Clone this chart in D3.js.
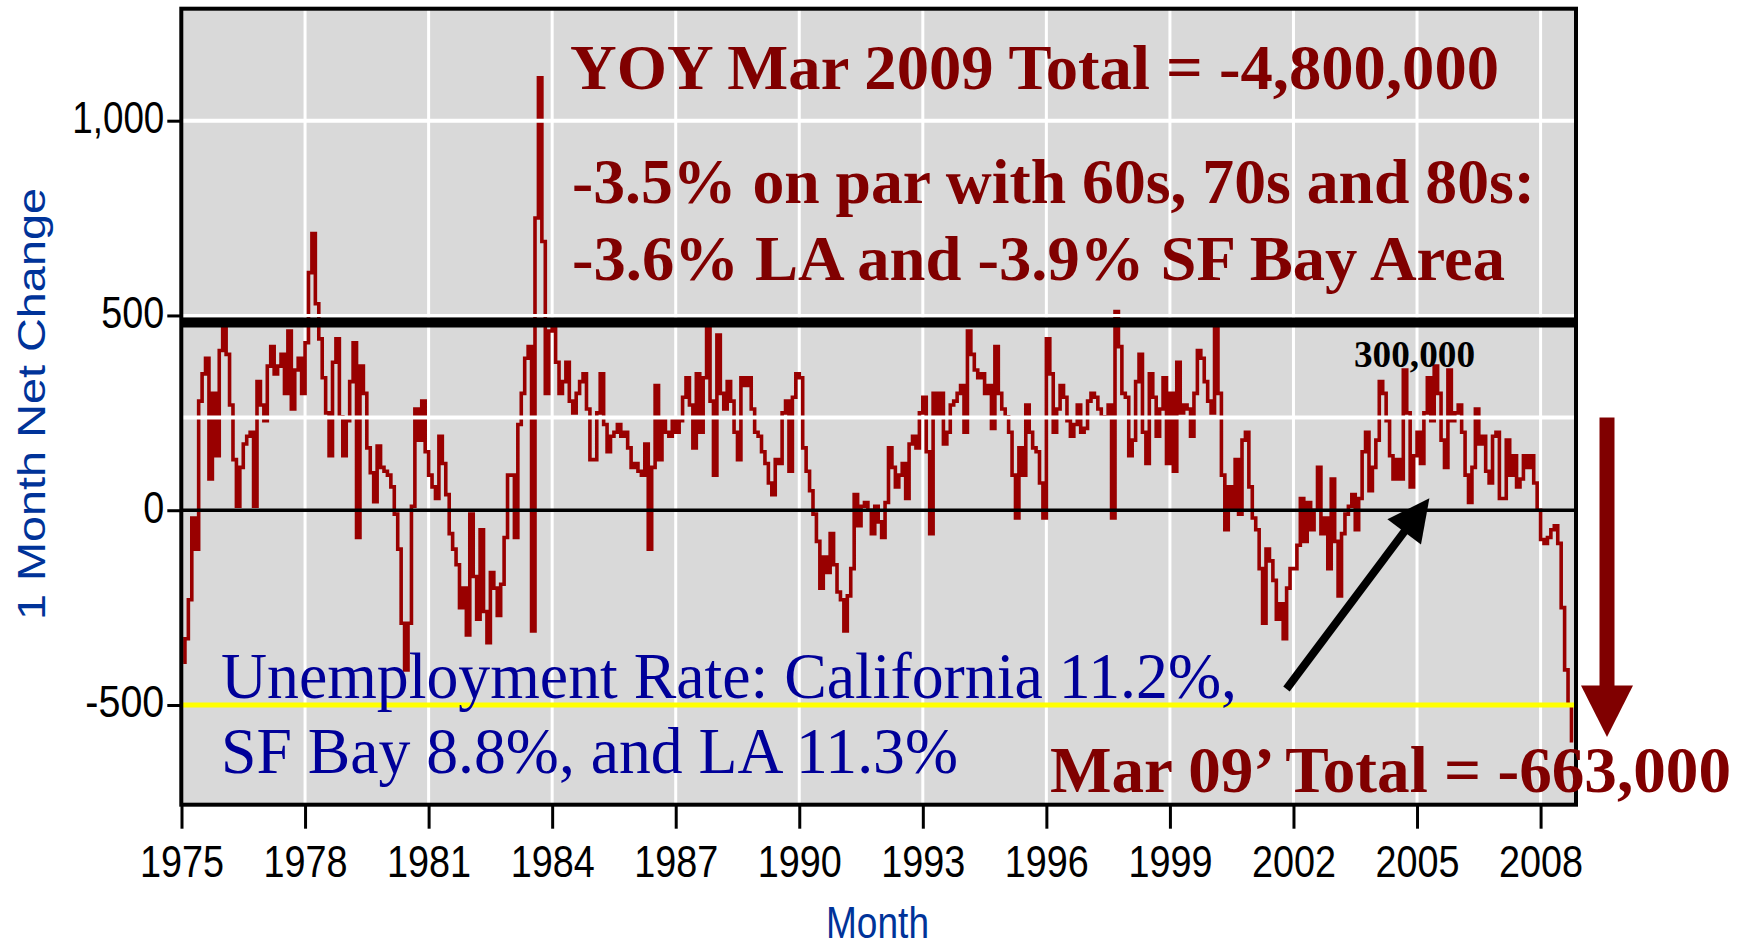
<!DOCTYPE html>
<html>
<head>
<meta charset="utf-8">
<script src="https://cdn.jsdelivr.net/npm/d3@7"></script>
<style>
  body { margin: 0; background: #fff; }
  svg { display: block; }
</style>
</head>
<body>
<div id="chart"></div>
<script>
// 1 month net change in jobs (thousands), monthly from Jan 1975
const net1970s = [
  -390, -330, -230, -20, -100, 280, 350, 390, 80, 300, 140, 410,
  470, 400, 270, 130, 10, 110, 170, 190, 200, 10, 330, 270,
  230, 370, 420, 350, 370, 400, 300, 460, 260, 360, 390, 300,
  430, 610, 710, 530, 440, 340, 250, 140, 380, 440, 240, 140,
  230, 330, 430, -70, 370, 300, 160, 96, 22, 165, 110, 100
];
const net1980s = [
  90, 60, -10, -100, -290, -410, -290, 10, 260, 180, 280, 150,
  90, 60, 30, 190, 120, 40, -60, -100, -140, -250, -200, -320,
  -10, -170, -280, -50, -260, -340, -160, -200, -270, -190, -70, 90,
  90, -70, 220, 300, 390, 420, -310, 750, 1110, 690, 300, 460,
  470, 380, 300, 330, 380, 280, 250, 300, 330, 350, 260, 130,
  130, 250, 350, 220, 150, 190, 200, 220, 190, 200, 160, 110,
  120, 100, 90, 170, -100, 110, 320, 130, 230, 200, 190, 230,
  200, 230, 290, 340, 270, 160, 350, 200, 340, 470, 280, 90,
  450, 300, 260, 330, 280, 200, 130, 340, 320, 340, 260, 200,
  190, 150, 120, 70, 40, 130, 120, 250, 280, 100, 290, 350
];
const net1990s = [
  340, 160, 100, 50, -10, -80, -200, -120, -160, -60, -140, -210,
  -230, -310, -220, -150, 40, -40, 10, 20, 0, -60, 10, -30,
  -70, 20, 160, 110, 60, 90, 120, 30, 170, 190, 160, 250,
  290, 150, -60, 300, 240, 300, 170, 200, 270, 280, 300, 320,
  200, 460, 400, 360, 340, 350, 300, 320, 210, 420, 300, 260,
  240, 200, 90, -20, 160, 90, 270, 200, 160, 150, 70, -20,
  440, 350, 200, 260, 320, 290, 230, 190, 220, 270, 200, 210,
  280, 300, 290, 260, 240, 240, 270, -20, 510, 420, 300, 290,
  140, 180, 330, 400, 200, 120, 350, 290, 190, 260, 340, 120,
  300, 100, 380, 250, 270, 260, 190, 300, 410, 390, 330, 280
];
const net2000s = [
  250, 480, 300, 90, -50, 60, 0, 130, -10, 180, 200, 60,
  -20, -50, -150, -290, -100, -130, -180, -280, -240, -330, -200, -150,
  -150, -90, 30, -80, 20, -50, 0, 110, -60, -20, -150, 80,
  -80, -220, -60, -10, 10, 40, -50, 30, 150, 200, 50, 110,
  180, 330, 300, 230, 140, 80, 130, 80, 360, 250, 60, 140,
  200, 120, 250, 340, 230, 370, 300, 180, 110, 360, 230, 250,
  270, 200, 90, 20, 110, 260, 170, 190, 100, 70, 190, 200,
  30, 30, 180, 90, 140, 60, 80, 140, 110, 140, 70, 0,
  -75, -85, -70, -50, -40, -85, -250, -410, -500, -592
];

const xTicks = [1975, 1978, 1981, 1984, 1987, 1990, 1993, 1996, 1999, 2002, 2005, 2008];
const yTicks = [-500, 0, 500, 1000];
const yTickLabels = ["-500", "0", "500", "1,000"];
const whiteLines = [1000, 500, 238];
const blackLine = 482;
const yellowLine = -500;

// SVG DIMENSIONS
let width = 1748;
let height = 951;
let plot = { left: 181.3, right: 1576, top: 8.7, bottom: 804.7 };

let svg = d3
  .select("#chart")
  .append("svg")
  .attr("width", width)
  .attr("height", height)
  .style("background", "#fff");

let x = d3.scaleLinear().domain([1975, 2008.86]).range([181.5, 1576]);
let y = d3.scaleLinear().domain([-756, 1287.5]).range([804.7, 8.7]);

// plot background
svg
  .append("rect")
  .attr("x", plot.left)
  .attr("y", plot.top)
  .attr("width", plot.right - plot.left)
  .attr("height", plot.bottom - plot.top)
  .attr("fill", "#d9d9d9");

// vertical grid
svg
  .append("g")
  .selectAll("line")
  .data(xTicks.slice(1))
  .enter()
  .append("line")
  .attr("x1", (d) => x(d))
  .attr("x2", (d) => x(d))
  .attr("y1", plot.top)
  .attr("y2", plot.bottom)
  .attr("stroke", "#fff")
  .attr("stroke-width", 3);

// the series
let netChange = [].concat(net1970s, net1980s, net1990s, net2000s);
let points = netChange.map((v, i) => [1975 + (i + 0.5) / 12, v]);

let line = d3
  .line()
  .x((d) => x(d[0]))
  .y((d) => y(d[1]))
  .curve(d3.curveStep);

svg
  .append("path")
  .datum(points)
  .attr("d", line)
  .attr("fill", "none")
  .attr("stroke", "#990000")
  .attr("stroke-width", 3.6);

// horizontal reference lines
function hline(v, color, w) {
  svg
    .append("line")
    .attr("x1", plot.left)
    .attr("x2", plot.right)
    .attr("y1", y(v))
    .attr("y2", y(v))
    .attr("stroke", color)
    .attr("stroke-width", w);
}
whiteLines.forEach((v) => hline(v, "#fff", v === 500 ? 3 : 4));
hline(blackLine, "#000", 10);
hline(0, "#000", 3.5);
hline(yellowLine, "#ffff00", 5);

// frame
svg
  .append("rect")
  .attr("x", plot.left)
  .attr("y", plot.top)
  .attr("width", plot.right - plot.left)
  .attr("height", plot.bottom - plot.top)
  .attr("fill", "none")
  .attr("stroke", "#000")
  .attr("stroke-width", 4);

// axes
const sans = "'Liberation Sans', Arial, sans-serif";
const serif = "'Liberation Serif', 'Times New Roman', serif";
function labelWidth(s) {
  let w = 0;
  for (const c of s) w += c === "," ? 8 : c === "-" ? 16 : 21;
  return w;
}

let yAxis = d3
  .axisLeft(y)
  .tickValues(yTicks)
  .tickSize(14)
  .tickPadding(3)
  .tickFormat((d, i) => yTickLabels[i]);
let gy = svg.append("g").attr("transform", `translate(${plot.left},0)`).call(yAxis);
gy.select(".domain").remove();
gy.selectAll("line").attr("stroke", "#000").attr("stroke-width", 3);
gy.selectAll("text")
  .attr("font-family", sans)
  .attr("font-size", 44)
  .attr("fill", "#000")
  .attr("dy", 12)
  .attr("textLength", (d, i) => labelWidth(yTickLabels[i]))
  .attr("lengthAdjust", "spacingAndGlyphs");

let xAxis = d3
  .axisBottom(x)
  .tickValues(xTicks)
  .tickSize(24)
  .tickFormat((d) => String(d));
let gx = svg.append("g").attr("transform", `translate(0,${plot.bottom})`).call(xAxis);
gx.select(".domain").remove();
gx.selectAll("line").attr("stroke", "#000").attr("stroke-width", 3);
gx.selectAll("text")
  .attr("font-family", sans)
  .attr("font-size", 44)
  .attr("fill", "#000")
  .attr("y", 72)
  .attr("dy", 0)
  .attr("textLength", (d) => labelWidth(String(d)))
  .attr("lengthAdjust", "spacingAndGlyphs");

// axis titles
svg
  .append("text")
  .attr("transform", "translate(45,404) rotate(-90)")
  .attr("text-anchor", "middle")
  .attr("font-family", sans)
  .attr("font-size", 39)
  .attr("fill", "#003399")
  .attr("textLength", 432)
  .attr("lengthAdjust", "spacingAndGlyphs")
  .text("1 Month Net Change");

svg
  .append("text")
  .attr("x", 877.5)
  .attr("y", 938)
  .attr("text-anchor", "middle")
  .attr("font-family", sans)
  .attr("font-size", 44)
  .attr("fill", "#003399")
  .attr("textLength", 103)
  .attr("lengthAdjust", "spacingAndGlyphs")
  .text("Month");

// annotations
function note(str, px, py, size, weight, color, len) {
  svg
    .append("text")
    .attr("x", px)
    .attr("y", py)
    .attr("font-family", serif)
    .attr("font-size", size)
    .attr("font-weight", weight)
    .attr("fill", color)
    .attr("textLength", len)
    .attr("lengthAdjust", "spacingAndGlyphs")
    .text(str);
}
note("YOY Mar 2009 Total = -4,800,000", 570, 89, 63, "bold", "#800000", 929);
note("-3.5% on par with 60s, 70s and 80s:", 572, 203, 63, "bold", "#800000", 963);
note("-3.6% LA and -3.9% SF Bay Area", 572, 280, 63, "bold", "#800000", 933);
note("300,000", 1354, 367, 37, "bold", "#000", 121);
note("Unemployment Rate: California 11.2%,", 221, 698, 65, "normal", "#000099", 1016);
note("SF Bay 8.8%, and LA 11.3%", 221, 773, 65, "normal", "#000099", 737);
note("Mar 09\u2019 Total = -663,000", 1050, 792, 65, "bold", "#800000", 681);

// black arrow pointing to the 2005 peak
let tail = [x(2001.83), y(-459)];
let tip = [x(2005.3), y(30.6)];
let dx = tip[0] - tail[0];
let dy = tip[1] - tail[1];
let len = Math.hypot(dx, dy);
let ux = dx / len;
let uy = dy / len;
let base = [tip[0] - ux * 42, tip[1] - uy * 42];
svg
  .append("line")
  .attr("x1", tail[0])
  .attr("y1", tail[1])
  .attr("x2", base[0] + ux * 4)
  .attr("y2", base[1] + uy * 4)
  .attr("stroke", "#000")
  .attr("stroke-width", 8);
svg
  .append("path")
  .attr(
    "d",
    `M${tip[0]},${tip[1]}L${base[0] - uy * 21},${base[1] + ux * 21}L${base[0] + uy * 21},${base[1] - ux * 21}Z`
  )
  .attr("fill", "#000");

// dark red down arrow on the right
let ax = 1607;
svg
  .append("rect")
  .attr("x", ax - 7.5)
  .attr("y", y(238))
  .attr("width", 15)
  .attr("height", y(-450) - y(238) + 2)
  .attr("fill", "#800000");
svg
  .append("path")
  .attr("d", `M${ax - 26},${y(-450)}L${ax + 26},${y(-450)}L${ax},${y(-582)}Z`)
  .attr("fill", "#800000");
</script>
</body>
</html>
